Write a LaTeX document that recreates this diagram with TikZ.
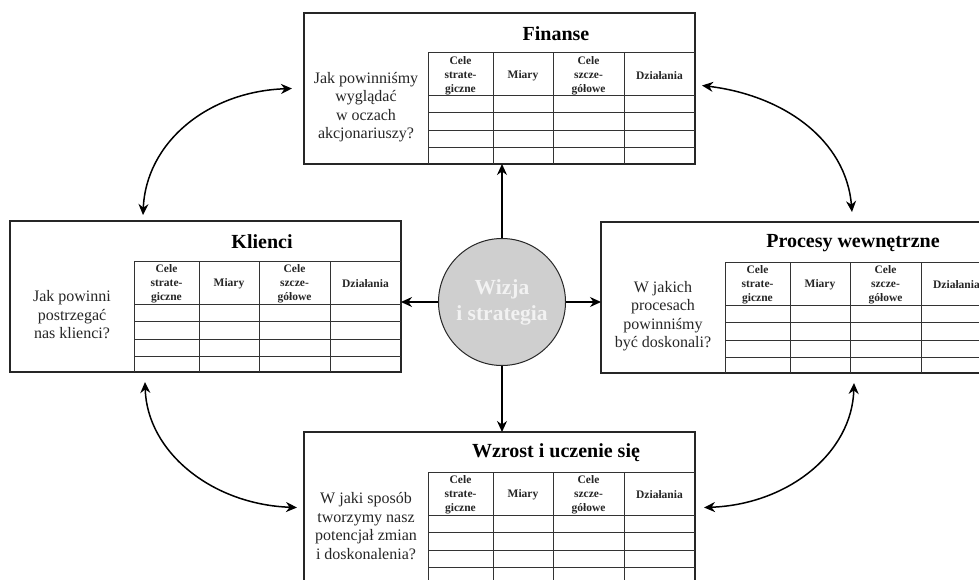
\documentclass[tikz,border=0pt]{standalone}
\usepackage{fontspec}
\setmainfont{Liberation Serif}
\usetikzlibrary{arrows.meta,calc}
\tikzset{
 panelbox/.style={draw=black!85, line width=1.2pt, rectangle, anchor=north west, minimum width=391pt, minimum height=151pt, inner sep=0pt, outer sep=0pt},
 tbl/.style={draw=black!80, line width=1pt},
 ttl/.style={font=\fontsize{20}{24}\selectfont\bfseries},
 qst/.style={font=\fontsize{16}{18.5}\selectfont, align=center, text=black!85, inner sep=0pt},
 hdr/.style={font=\fontsize{11.5}{13.8}\selectfont\bfseries, align=center, inner sep=0pt, text=black!85},
 arr/.style={-{Stealth[length=11pt,width=10pt]}, line width=1.3pt},
 darr/.style={{Stealth[length=11pt,width=10pt]}-{Stealth[length=11pt,width=10pt]}, line width=1.5pt},
 hub/.style={circle, draw=black!85, line width=1pt, fill=black!19, minimum size=127pt, inner sep=0pt, font=\fontsize{21.5}{26}\selectfont\bfseries, text=black!5, align=center},
}
\newcommand\mypanel[5]{%
 \node[panelbox] (#1) at (#2,#3) {};
 \node[ttl] (#1-t) at (#2+252,#3+21) {#4};
 \node[qst] (#1-q) at (#2+62,#3+94) {#5};
 \draw[tbl] (#2+124,#3+151) -- (#2+124,#3+40) -- (#2+391,#3+40);
 \foreach \yy in {43,60,78,95} \draw[tbl] (#2+124,#3+40+\yy) -- (#2+391,#3+40+\yy);
 \foreach \xx in {65,125,196} \draw[tbl] (#2+124+\xx,#3+40) -- (#2+124+\xx,#3+151);
 \node[hdr] (#1-h1) at (#2+124+32.5,#3+62.5) {Cele\\strate-\\giczne};
 \node[hdr] (#1-h2) at (#2+124+95,#3+62.5) {Miary};
 \node[hdr] (#1-h3) at (#2+124+160.5,#3+62.5) {Cele\\szcze-\\gółowe};
 \node[hdr] (#1-h4) at (#2+124+231.5,#3+62.5) {Działania};
}
\begin{document}
\begin{tikzpicture}[x=1pt,y=-1pt]
\useasboundingbox (0,0) rectangle (979,580);
\clip (0,0) rectangle (979,580);
\fill[white] (0,0) rectangle (979,580);
\mypanel{fin}{304}{13}{Finanse}{Jak powinniśmy\\wyglądać\\w oczach\\akcjonariuszy?}
\mypanel{kli}{10}{221}{Klienci}{Jak powinni\\postrzegać\\nas klienci?}
\mypanel{pro}{601}{222}{Procesy wewnętrzne}{W jakich\\procesach\\powinniśmy\\być doskonali?}
\mypanel{wzr}{304}{432}{Wzrost i uczenie się}{W jaki sposób\\tworzymy nasz\\potencjał zmian\\i doskonalenia?}
\node[hub] (wiz) at (502,302) {Wizja\\i strategia};
\draw[arr] (wiz.north) -- (wiz.north |- fin.south);
\draw[arr] (wiz.west) -- (wiz.west -| kli.east);
\draw[arr] (wiz.east) -- (wiz.east -| pro.west);
\draw[arr] (wiz.south) -- (wiz.south |- wzr.north);
\coordinate (fk1) at ($(fin.west)+(-12,0)$);
\coordinate (fk2) at ($(kli.north west)+(133,-6)$);
\coordinate (fp1) at ($(fin.east)+(7,-3)$);
\coordinate (fp2) at ($(pro.north west)+(251,-10)$);
\coordinate (kw1) at ($(kli.south west)+(135,10)$);
\coordinate (kw2) at ($(wzr.west)+(-7,0)$);
\coordinate (pw1) at ($(pro.south west)+(253,10)$);
\coordinate (pw2) at ($(wzr.east)+(9,0)$);
\draw[darr] (fk2) .. controls ($(fk2)+(3,-72)$) and ($(fk1)+(-85,3)$) .. (fk1);
\draw[darr] (fp1) .. controls ($(fp1)+(82,10)$) and ($(fp2)+(-6,-72)$) .. (fp2);
\draw[darr] (kw1) .. controls ($(kw1)+(2,70)$) and ($(kw2)+(-85,-3)$) .. (kw2);
\draw[darr] (pw1) .. controls ($(pw1)+(-2,70)$) and ($(pw2)+(84,-3)$) .. (pw2);
\end{tikzpicture}
\end{document}
